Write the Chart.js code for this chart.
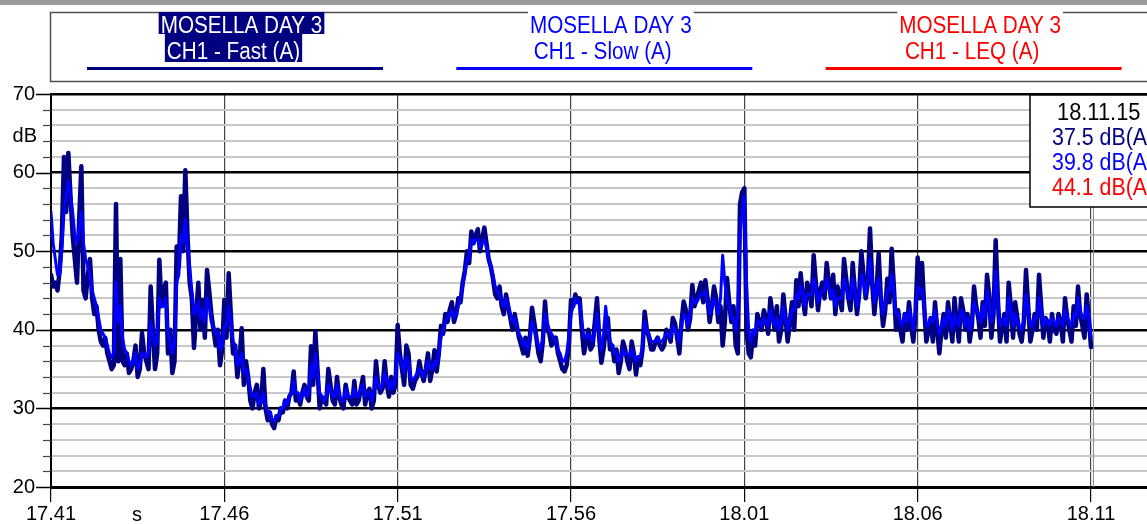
<!DOCTYPE html>
<html><head><meta charset="utf-8">
<script src="https://cdn.jsdelivr.net/npm/chart.js@4.4.1/dist/chart.umd.min.js"></script>
<style>html,body{margin:0;padding:0;background:#fff;overflow:hidden}canvas{display:block}</style>
</head><body>
<canvas id="c" width="1147" height="524"></canvas>
<script>
const FONT = '"Liberation Sans", Arial, sans-serif';
const chartTitle = 'MOSELLA DAY 3';
const seriesNames = ['CH1 - Fast (A)', 'CH1 - Slow (A)', 'CH1 - LEQ (A)'];
const seriesColors = ['#000080', '#0000ff', '#ff0000'];
const infoDate = '18.11.15';
const infoValues = ['37.5 dB(A)', '39.8 dB(A)', '44.1 dB(A)'];
const yUnit = 'dB';
const xUnit = 's';
const xTickMinutes = [0, 5, 10, 15, 20, 25, 30];
const xTickLabels = ['17.41', '17.46', '17.51', '17.56', '18.01', '18.06', '18.11'];
const sampleStepMin = 0.0625;

const fastValues = [
47,45.5, 46,45, 47.5,52, 62,55, 62.5,57, 52,49, 46,54, 60.8,45, 44,47, 49,44,
42,43, 40,38.5, 38,39, 37,36, 35,35.5, 56,36, 49,36, 35.5,37, 34.5,35, 36,38,
34,35, 39.6,37, 36,35, 45.5,40, 35,37, 48.9,43, 45,46, 37,40, 34.5,36, 50.6,48,
57,50, 60.3,52, 46,44, 37.7,42, 46,40, 43.8,39, 47.6,45, 42,40, 38,40, 35.5,37.5,
43.8,39, 47.2,42, 37,38, 34,36, 40.2,33, 36,34, 31,30, 32,33, 30,31, 35,30,
28.5,29.5, 28,27.5, 29,28.5, 30,29.5, 31,30, 31.5,32, 34.7,31, 31.5,30.5, 32,33, 31.5,31,
37.9,33, 39.8,35, 30,31.5, 31,30.5, 35,33, 31,30.5, 34,31.5, 30.5,30, 33,31.5, 31,30.5,
33.5,30.5, 31,32.5, 34,30.5, 32,32.5, 30,31, 36,33, 32,32.5, 36,33, 31.5,34, 32,33,
40.6,37, 35,33, 38,37, 33,32.5, 33.5,34, 36,34.5, 33.5,35, 37,33.5, 35,37.4, 34.7,37,
40.5,39.5, 42,41, 42.5,43.5, 41,42, 44,43.5, 46,47.5, 50,48.5, 52.5,51, 52,52.8, 50,51.5,
53,51, 49,48, 46.5,44.5, 44,45.5, 43,42, 44.5,43, 41.5,40, 42,40.5, 39,38, 37,39,
36.7,39, 42.8,41, 39,37, 36,38.5, 43.6,40, 39.5,38, 38.5,39, 37,36, 35,34.7, 35.5,38,
43.8,43, 44.5,43.5, 44,40, 37,38.5, 40,37.5, 38,41, 44,39, 35.8,37.5, 40,41.5, 37.5,38,
36,37.5, 34.5,36, 38.5,37.5, 36,35, 38.5,37, 34.3,36.5, 35.5,37.5, 42.3,40, 39,37.5, 37.5,38.5,
39,38, 37.5,38, 40,39.5, 38.5,41.5, 40.8,39, 37,41, 43.6,42.5, 40,41.5, 45.7,43, 44,45,
46,43.5, 46.3,44, 41,43, 45.5,44, 41,43, 38,41, 46.6,43.5, 41,43, 38,37, 56,57.5,
58,40, 37,36.5, 39.7,38, 42,41, 40,42.5, 41.5,39.5, 44,42, 40,43, 38.5,40, 44.5,41.5,
38.5,41, 43.5,40, 46.3,43, 47.2,44, 42,46, 45,43, 49.5,46, 42.5,45, 46,44, 48.5,46,
44,47, 42,45.5, 44,42.5, 49,46.5, 44,42.5, 48.5,45, 42,44.5, 50,47, 44,46, 52.9,46,
42,45, 49.7,44, 40.5,42.5, 46.5,43.5, 50.3,45.5, 40,42.5, 40,38.5, 42,40, 43.5,40.5, 38.5,42,
49.2,44, 48.5,43, 38.5,40, 41.5,38.5, 43.5,40, 37,40, 42,39, 43.5,41, 38.5,44, 41,38.5,
44,42.5, 40,42, 38.5,40.5, 45.5,43, 41.5,39, 43.5,40.5, 47,44.5, 39,42, 51.4,44, 38.5,40.5,
42,38.5, 46,43, 39,43.5, 41.5,39.5, 38.5,41, 47.6,43, 38.5,40, 42,40, 47,43, 39,41.5,
41,38.5, 42,40, 39.5,42, 41,38.5, 44,41.5, 40,38.5, 43,40.5, 45.5,42, 40.5,39, 44.5,41.5, 37.8
];

const slowValues = [
55,51, 49,47, 47,50, 55,57, 59,57, 55,52, 51,53, 55,51, 49,48, 47,45,
44,43, 41.5,40, 39.5,39, 38,37, 36.5,37, 46,41, 43,39, 37.5,37, 36,35.5, 36,37,
35,35.5, 37,37, 36.5,37, 41,39.5, 38,38.5, 44,43, 43,44, 39.5,38.5, 37,38, 46,47,
52,51, 54,51, 48,45, 42,42.5, 43.5,41.5, 42.5,41, 44,43, 41,40.5, 39.5,39.5, 37.5,38,
40.5,40.5, 43,41, 38.5,38, 35.5,36, 37,34.5, 35,34, 32.5,31.5, 31.5,32, 30.5,31, 32,30.5,
29.5,29.5, 28.5,28.5, 29,29, 30,30, 31,30.5, 31.5,32, 33.5,32, 32,31, 32,32.5, 31.5,32,
35.5,34, 37,35, 32,31.5, 31,31.5, 33,32.5, 31.5,31.5, 33,32, 31,31, 32.5,31.5, 31.5,31.5,
32.5,31.5, 31.5,32.5, 33,31.5, 32,32, 31,32, 34,33, 32.5,33, 34.5,33.5, 32.5,33.5, 32.5,34,
37,36.5, 35.5,34.5, 36.5,36, 34,33.5, 34,34.5, 35,34.5, 34,35, 36,35, 35,36, 35.5,37,
39,40, 41,41.5, 42,42.5, 41.5,42, 43,44, 45.5,47, 49,49, 51.5,51, 51.5,51.5, 50.5,51,
51.5,50.5, 49,48, 47,45.5, 45,44.5, 43.5,43, 44,43, 42,41, 41.5,40.5, 39.5,39, 38,38.5,
37.5,39, 41,40, 39,38, 37.5,39, 42,41, 40,39.5, 39,38.5, 37.5,37, 36,36, 37,39,
42,43, 44,43.5, 43.5,41, 39,39, 39.5,39, 38.5,40, 42,39.5, 37.5,39.5, 43,40.5, 38.5,38,
37,37, 36,36.5, 37.5,37, 37,36.5, 37.5,37, 36,36.5, 36.5,38, 41,40, 39.5,38.5, 38.5,38.5,
39,38.5, 38.5,39, 39.5,39.5, 39,40.5, 40,39.5, 38.5,40.5, 42,41.5, 40.5,42, 44,43.5, 43.5,44,
44.5,44.5, 45,43.5, 42,43, 44,43, 42,44, 49.5,46, 44,43, 41.5,41.5, 40,42, 52,55,
57,46, 40,38.5, 40,39.5, 41,41, 40.5,41.5, 41,40.5, 42.5,41.5, 40.5,41.5, 40,41, 43,41.5,
40,41, 42.5,42.5, 44.5,44, 45.5,44.5, 43,44.5, 44.5,44.5, 46.5,45.5, 43.5,44.5, 45,45, 46.5,45.5,
44,45, 43,44, 44,44, 46.5,45.5, 44,44, 46.5,45, 43,44.5, 47,46, 44.5,46, 49,46.5,
43.5,45, 46.5,44, 42,43.5, 45,45, 47,45, 42,42, 41,40.5, 42,41, 42.5,41.5, 40,42.5,
45.5,45, 45,43, 40.5,40.5, 41.5,41, 42.5,41, 39.5,40.5, 41.5,40.5, 42.5,41.5, 40,42, 41,40.5,
42.5,42, 40.5,41.5, 40,41, 43.5,42.5, 42,41, 43,41.5, 45,43.5, 41,42.5, 47.5,44, 40.5,41,
41.5,40.5, 44,42.5, 40.5,42, 41,40.5, 40,41.5, 44.5,42.5, 40.5,40.5, 41.5,41.5, 44,42.5, 40.5,41.5,
41,40.5, 41.5,41, 40.5,41.5, 41,40.5, 42.5,41.5, 41,40.5, 42,41.5, 44,42.5, 41.5,41.5, 43,41.5, 39
];

const leqValues = [];

const sampleMinutes = fastValues.map((_, i) => i * sampleStepMin);

function condText(ctx, text, x, y, sx, align) {
  ctx.save();
  ctx.translate(x, y);
  ctx.scale(sx, 1);
  ctx.textAlign = align || 'center';
  ctx.textBaseline = 'alphabetic';
  ctx.fillText(text, 0, 0);
  ctx.restore();
}

const deco = {
  id: 'deco',
  beforeDraw(chart) {
    const ctx = chart.ctx;
    ctx.save();
    ctx.fillStyle = '#fff';
    ctx.fillRect(0, 0, chart.width, chart.height);
    ctx.restore();
  },
  beforeDatasetsDraw(chart) {
    const ctx = chart.ctx;
    const x = chart.scales.x;
    const {top, bottom} = chart.chartArea;
    const px = Math.round(x.getPixelForValue(xTickMinutes[xTickMinutes.length - 1])) + 2.5;
    ctx.save();
    ctx.strokeStyle = '#8a8a8a';
    ctx.lineWidth = 1;
    ctx.beginPath(); ctx.moveTo(px, top); ctx.lineTo(px, bottom); ctx.stroke();
    ctx.restore();
  },
  afterDraw(chart) {
    const ctx = chart.ctx;
    const y = chart.scales.y;
    const {left} = chart.chartArea;
    ctx.save();
    ctx.fillStyle = '#9a9a9a';
    ctx.fillRect(0, 0, chart.width, 5);
    y.ticks.forEach(t => {
      const py = Math.round(y.getPixelForValue(t.value)) + 0.5;
      const major = t.value % 10 === 0;
      ctx.strokeStyle = major ? '#000' : '#444';
      ctx.lineWidth = major ? 1.5 : 1.2;
      ctx.beginPath();
      ctx.moveTo(left - (major ? 15 : 8), py);
      ctx.lineTo(left, py);
      ctx.stroke();
    });
    ctx.fillStyle = '#000';
    ctx.font = '20px ' + FONT;
    ctx.textAlign = 'right';
    ctx.textBaseline = 'alphabetic';
    ctx.fillText(yUnit, 37, 142);
    ctx.textAlign = 'center';
    ctx.fillText(xUnit, 137, 521);

    ctx.strokeStyle = '#505050';
    ctx.lineWidth = 1.5;
    ctx.strokeRect(50.5, 12.5, chart.width + 20, 69);
    const sx = 0.88;
    ctx.font = '23.5px ' + FONT;
    for (let k = 0; k < seriesNames.length; k++) {
      const c = 235 + k * 369.3;
      const c1 = c + 6.5, c2 = c - 1.5;
      const w1 = ctx.measureText(chartTitle).width * sx;
      const w2 = ctx.measureText(seriesNames[k]).width * sx;
      if (k === 0) {
        ctx.fillStyle = seriesColors[0];
        ctx.fillRect(c1 - w1 / 2 - 2, 12, w1 + 4, 22);
        ctx.fillRect(c2 - w2 / 2 - 2, 34, w2 + 4, 28);
        ctx.fillStyle = '#fff';
      } else {
        ctx.fillStyle = '#fff';
        ctx.fillRect(c1 - w1 / 2 - 2, 10, w1 + 4, 24);
        ctx.fillStyle = seriesColors[k];
      }
      condText(ctx, chartTitle, c1, 33, sx);
      condText(ctx, seriesNames[k], c2, 58.5, sx);
      ctx.strokeStyle = seriesColors[k];
      ctx.lineWidth = 3;
      ctx.beginPath();
      ctx.moveTo(c - 148, 68.5);
      ctx.lineTo(c + 148, 68.5);
      ctx.stroke();
    }

    ctx.fillStyle = '#fff';
    ctx.fillRect(1030, 95, 200, 112);
    ctx.strokeStyle = '#000';
    ctx.lineWidth = 1.5;
    ctx.strokeRect(1030, 95, 200, 112);
    ctx.font = '23px ' + FONT;
    ctx.fillStyle = '#000';
    condText(ctx, infoDate, 1057, 119.5, 0.95, 'left');
    for (let k = 0; k < infoValues.length; k++) {
      ctx.fillStyle = seriesColors[k];
      condText(ctx, infoValues[k], 1052, 145 + k * 25, 0.93, 'left');
    }
    ctx.restore();
  }
};

new Chart(document.getElementById('c'), {
  type: 'line',
  data: {
    labels: sampleMinutes,
    datasets: [
      { label: seriesNames[0], data: fastValues, borderColor: seriesColors[0], borderWidth: 4.5, order: 1 },
      { label: seriesNames[1], data: slowValues, borderColor: seriesColors[1], borderWidth: 3, order: 0 },
      { label: seriesNames[2], data: leqValues, borderColor: seriesColors[2], borderWidth: 2, order: 2 }
    ]
  },
  options: {
    responsive: false,
    animation: false,
    devicePixelRatio: 1,
    layout: { padding: { top: 94, left: 0, right: 0, bottom: 0 } },
    elements: {
      point: { radius: 0 },
      line: { tension: 0, borderJoinStyle: 'round', borderCapStyle: 'round', fill: false }
    },
    plugins: { legend: { display: false }, tooltip: { enabled: false }, title: { display: false } },
    scales: {
      x: {
        type: 'linear',
        min: 0,
        max: 31.615,
        afterBuildTicks: s => { s.ticks = xTickMinutes.map(v => ({ value: v })); },
        afterFit: s => { s.height = 37; },
        ticks: {
          autoSkip: false, maxRotation: 0, padding: 0,
          color: '#000',
          font: { family: FONT, size: 20 },
          callback: v => xTickLabels[xTickMinutes.indexOf(v)]
        },
        grid: { color: '#444', lineWidth: 1.2, drawTicks: true, tickLength: 15, tickColor: '#000', tickWidth: 1.2 },
        border: { display: true, color: '#000', width: 3 }
      },
      y: {
        min: 20,
        max: 70,
        afterFit: s => { s.width = 51; },
        ticks: {
          stepSize: 2, autoSkip: false, padding: 16, color: '#000',
          font: { family: FONT, size: 20 },
          callback: v => (v % 10 === 0 ? String(v) : '')
        },
        grid: {
          drawTicks: false,
          color: c => (c.tick && c.tick.value % 10 === 0 ? '#000' : '#c8c8c8'),
          lineWidth: c => (c.tick && c.tick.value % 10 === 0 ? 2.5 : 2)
        },
        border: { display: true, color: '#000', width: 2 }
      }
    }
  },
  plugins: [deco]
});
</script>
</body></html>
